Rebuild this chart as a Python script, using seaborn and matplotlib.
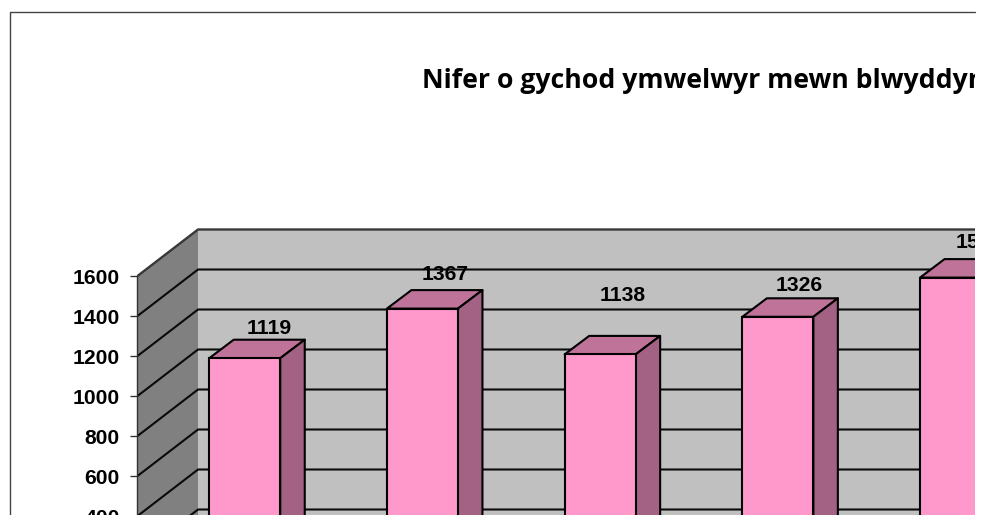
import matplotlib
matplotlib.use("Agg")
import matplotlib.pyplot as plt
from matplotlib.lines import Line2D
from matplotlib.patches import Polygon
import seaborn as sns
import pandas as pd

# ---- data ----
categories = ["1", "2", "3", "4", "5"]
values = [1119, 1367, 1138, 1326, 1522]
value_labels = ["1119", "1367", "1138", "1326", "1522"]
tick_values = [0, 200, 400, 600, 800, 1000, 1200, 1400, 1600]
title_text = "Nifer o gychod ymwelwyr mewn blwyddyn"

# per-label placement as in the source (pixels from the bar's top-centre)
label_dx = [24.5, 22.5, 22.5, 21.5, 23.5]
label_dy = [30, 34, 59, 31, 35]

W, H = 987, 515
PX_PER_UNIT = 0.2          # vertical pixels per value unit
AX_L, AX_R, AX_T, AX_B = 137.5, 975.0, 12.0, 535.0
FRONT_1600 = 276.0         # pixel row of 1600 on the front plane
BAR_1600 = 262.0           # pixel row of 1600 on the bars' plane
WALL_DX, WALL_DY = 60.5, 46.5
BAR_DX, BAR_DY = 24.5, 18.5
CAT0_PX, CAT_STEP = 244.75, 177.7
BAR_W = 71.0

C_WALL, C_BACK = "#808080", "#C0C0C0"
C_FRONT, C_TOP, C_SIDE = "#FF99CC", "#BF7399", "#A36283"
LW = 1.5

sns.set_theme(style="white")
plt.rcParams["font.family"] = ["Liberation Sans", "DejaVu Sans"]

fig = plt.figure(figsize=(W / 100, H / 100), dpi=100, facecolor="white")
pos = [AX_L / W, (H - AX_B) / H, (AX_R - AX_L) / W, (AX_B - AX_T) / H]


def vlim(row):
    return (1600 - (AX_B - row) / PX_PER_UNIT, 1600 + (row - AX_T) / PX_PER_UNIT)


# ---- walls and value axis ----
ax = fig.add_axes(pos, facecolor="none", zorder=1)
dv = WALL_DY / PX_PER_UNIT
vmax = max(tick_values)
ax.add_patch(Polygon([(0, -500), (0, vmax), (WALL_DX, vmax + dv), (WALL_DX, -500 + dv)],
                     facecolor=C_WALL, edgecolor="none"))
ax.fill_between([WALL_DX, AX_R - AX_L], -500, vmax + dv, color=C_BACK, linewidth=0)
for t in tick_values[:-1]:
    ax.plot([0, WALL_DX, AX_R - AX_L], [t, t + dv, t + dv], color="#0a0a0a", lw=1.5)
ax.plot([0, WALL_DX, AX_R - AX_L], [vmax, vmax + dv, vmax + dv], color="#383838", lw=1.7)
ax.set_yticks(tick_values)
ax.set_yticklabels([str(t) for t in tick_values], fontsize=15.2, fontweight="bold", color="black")
ax.tick_params(axis="y", left=True, length=4.7, width=1, color="#333333", pad=8)
ax.set_xticks([])
ax.set_xlim(0, AX_R - AX_L)
ax.set_ylim(*vlim(FRONT_1600))
for name, s in ax.spines.items():
    s.set_visible(name == "left")
ax.spines["left"].set_color("#333333")
ax.spines["left"].set_linewidth(1.0)
ax.spines["left"].set_bounds(-500, vmax)

# ---- bars ----
ax_bars = fig.add_axes(pos, facecolor="none", zorder=2)
df = pd.DataFrame({"category": categories, "value": values})
sns.barplot(data=df, x="category", y="value", ax=ax_bars, order=categories,
            color=C_FRONT, saturation=1, width=BAR_W / CAT_STEP,
            edgecolor="black", linewidth=LW, zorder=3)
ax_bars.set_xlim((AX_L - CAT0_PX) / CAT_STEP, (AX_R - CAT0_PX) / CAT_STEP)
ax_bars.set_ylim(*vlim(BAR_1600))
ax_bars.axis("off")

ddx, ddv = BAR_DX / CAT_STEP, BAR_DY / PX_PER_UNIT
for bar in list(ax_bars.patches):
    x0, w, h = bar.get_x(), bar.get_width(), bar.get_height()
    x1 = x0 + w
    ax_bars.add_patch(Polygon([(x0, h), (x1, h), (x1 + ddx, h + ddv), (x0 + ddx, h + ddv)],
                              facecolor=C_TOP, edgecolor="black", lw=LW, zorder=2,
                              joinstyle="round"))
    ax_bars.add_patch(Polygon([(x1, 0), (x1, h), (x1 + ddx, h + ddv), (x1 + ddx, ddv)],
                              facecolor=C_SIDE, edgecolor="black", lw=LW, zorder=2,
                              joinstyle="round"))

for i, (v, lab) in enumerate(zip(values, value_labels)):
    ax_bars.annotate(lab, xy=(i, v), xytext=(label_dx[i], label_dy[i]),
                     textcoords="offset pixels", ha="center", va="center",
                     fontsize=15.2, fontweight="bold", color="black",
                     clip_on=True, zorder=5)

# ---- title, clipped at the right like the source ----
ax_bars.text(422 / W, 1 - 88 / H, title_text, transform=fig.transFigure,
             family=["Open Sans", "DejaVu Sans"], fontsize=19.2, fontweight="bold",
             color="black", ha="left", va="baseline", clip_on=True, zorder=6)

# ---- chart frame ----
fig.add_artist(Line2D([10 / W, 10 / W, AX_R / W], [0, 1 - 12 / H, 1 - 12 / H],
                      color="#444444", lw=1.0))

fig.savefig("out.png", dpi=100)
